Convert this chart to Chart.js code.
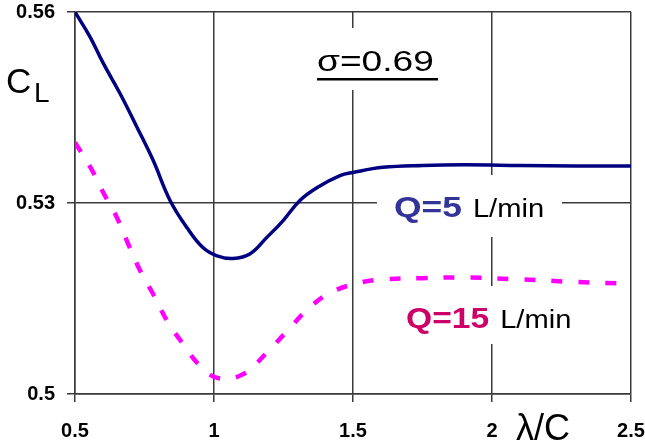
<!DOCTYPE html>
<html>
<head>
<meta charset="utf-8">
<script src="https://cdn.jsdelivr.net/npm/chart.js@4.4.0/dist/chart.umd.min.js"></script>
<style>
  html, body { margin: 0; padding: 0; background: #fff; }
  #wrap { width: 645px; height: 446px; }
</style>
</head>
<body>
<div id="wrap"><canvas id="chart" width="645" height="446"></canvas></div>
<script>
// lambda/C values and C_L
const q5X = [0.5, 0.554, 0.601, 0.662, 0.723, 0.781, 0.842, 0.903, 0.96, 1.011, 1.068, 1.129, 1.19, 1.248, 1.309, 1.37, 1.453, 1.5, 1.608, 1.75, 1.9, 2.1, 2.3, 2.5];
const q5Y = [0.56, 0.5561, 0.552, 0.5472, 0.5419, 0.5367, 0.5304, 0.5261, 0.523, 0.5217, 0.5213, 0.522, 0.5246, 0.5272, 0.5304, 0.5324, 0.5343, 0.5348, 0.5356, 0.5359, 0.536, 0.5359, 0.5358, 0.5358];

const q15X = [0.5, 0.558, 0.601, 0.651, 0.691, 0.734, 0.781, 0.831, 0.888, 0.95, 1.014, 1.104, 1.19, 1.263, 1.335, 1.41, 1.507, 1.608, 1.75, 1.9, 2.1, 2.3, 2.5];
const q15Y = [0.5395, 0.5354, 0.5317, 0.5277, 0.5236, 0.5194, 0.5157, 0.5115, 0.5079, 0.5044, 0.5025, 0.5031, 0.5065, 0.5099, 0.5132, 0.5157, 0.5173, 0.518, 0.5182, 0.5183, 0.518, 0.5176, 0.5173];

const xTicks = [0.5, 1, 1.5, 2, 2.5];
const xTickLabels = ['0.5', '1', '1.5', '2', '2.5'];
const yTicks = [0.5, 0.53, 0.56];
const yTickLabels = ['0.5', '0.53', '0.56'];

const FONT = '"Liberation Sans", Arial, Helvetica, sans-serif';
const GRID = '#3a3a3a';

const toPts = (xs, ys) => xs.map((x, i) => ({ x, y: ys[i] }));

// text drawn a bit wider than the font, like the stretched original
function wideText(ctx, txt, x, y, sx) {
  ctx.save();
  ctx.translate(x, y);
  ctx.scale(sx, 1);
  ctx.fillText(txt, 0, 0);
  const w = ctx.measureText(txt).width * sx;
  ctx.restore();
  return w;
}

// labels, boxes and axis titles drawn over the plot
const notes = {
  id: 'notes',
  afterDatasetsDraw(chart) {
    const ctx = chart.ctx;
    ctx.save();
    ctx.fillStyle = '#fff';
    ctx.fillRect(300, 28, 155, 62);
    ctx.fillRect(377, 175, 185, 62);
    ctx.fillRect(395, 286, 195, 58);

    ctx.textBaseline = 'alphabetic';
    ctx.textAlign = 'left';

    // sigma
    ctx.fillStyle = '#000';
    ctx.font = `29px ${FONT}`;
    wideText(ctx, 'σ=0.69', 317, 71, 1.28);
    ctx.fillRect(317, 78, 121, 2.5);

    // Q=5
    ctx.font = `bold 30px ${FONT}`;
    ctx.fillStyle = '#333399';
    let w = wideText(ctx, 'Q=5', 394, 217, 1.18);
    ctx.font = `26px ${FONT}`;
    ctx.fillStyle = '#000';
    wideText(ctx, 'L/min', 394 + w + 11, 217, 1.12);

    // Q=15
    ctx.font = `bold 30px ${FONT}`;
    ctx.fillStyle = '#cc0066';
    w = wideText(ctx, 'Q=15', 406, 328, 1.12);
    ctx.font = `26px ${FONT}`;
    ctx.fillStyle = '#000';
    wideText(ctx, 'L/min', 406 + w + 11, 328, 1.12);

    // axis titles
    ctx.font = `35px ${FONT}`;
    ctx.fillText('C', 6, 93);
    ctx.font = `28px ${FONT}`;
    ctx.fillText('L', 34, 102);
    ctx.font = `36px ${FONT}`;
    ctx.fillText('λ/C', 516, 440);
    ctx.restore();
  }
};

new Chart(document.getElementById('chart'), {
  type: 'line',
  data: {
    datasets: [
      {
        label: 'Q=5 L/min',
        data: toPts(q5X, q5Y),
        borderColor: '#000080',
        borderWidth: 3.5,
        pointRadius: 0,
        tension: 0.4,
        fill: false
      },
      {
        label: 'Q=15 L/min',
        data: toPts(q15X, q15Y),
        borderColor: '#ff00ff',
        borderWidth: 4.5,
        borderDash: [11, 16],
        pointRadius: 0,
        tension: 0.4,
        fill: false
      }
    ]
  },
  options: {
    responsive: false,
    animation: false,
    layout: { padding: { top: 12, right: 14, left: 0, bottom: 0 } },
    plugins: { legend: { display: false }, tooltip: { enabled: false } },
    scales: {
      x: {
        type: 'linear',
        min: 0.5,
        max: 2.5,
        afterBuildTicks: (s) => { s.ticks = xTicks.map(v => ({ value: v })); },
        afterFit: (s) => { s.height = 52; s.paddingLeft = 0; s.paddingRight = 0; },
        ticks: {
          autoSkip: false,
          maxRotation: 0,
          padding: 17,
          color: '#000',
          font: { family: FONT, size: 20, weight: 'bold' },
          callback: (v) => xTickLabels[xTicks.indexOf(v)] ?? ''
        },
        grid: { color: GRID, lineWidth: 1.5, tickLength: 8, tickColor: GRID },
        border: { color: GRID, width: 1.5 }
      },
      y: {
        type: 'linear',
        min: 0.5,
        max: 0.56,
        afterBuildTicks: (s) => { s.ticks = yTicks.map(v => ({ value: v })); },
        afterFit: (s) => { s.width = 75; s.paddingTop = 0; s.paddingBottom = 0; },
        ticks: {
          autoSkip: false,
          padding: 12,
          color: '#000',
          font: { family: FONT, size: 20, weight: 'bold' },
          callback: (v) => yTickLabels[yTicks.indexOf(v)] ?? ''
        },
        grid: { color: GRID, lineWidth: 1.5, tickLength: 8, tickColor: GRID },
        border: { color: GRID, width: 1.5 }
      }
    }
  },
  plugins: [notes]
});
</script>
</body>
</html>
